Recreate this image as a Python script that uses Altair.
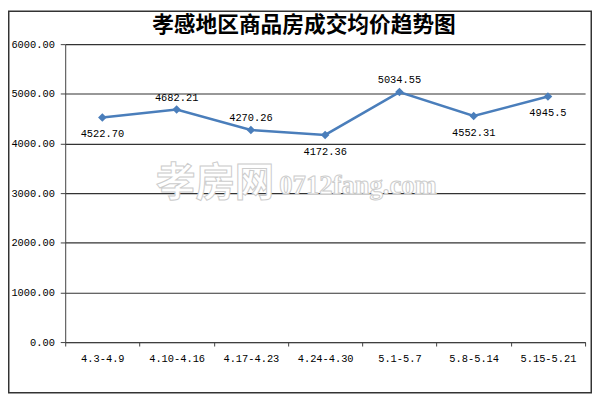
import altair as alt
import pandas as pd

categories = ["4.3-4.9", "4.10-4.16", "4.17-4.23", "4.24-4.30", "5.1-5.7", "5.8-5.14", "5.15-5.21"]
prices = [4522.70, 4682.21, 4270.26, 4172.36, 5034.55, 4552.31, 4945.5]
price_labels = ["4522.70", "4682.21", "4270.26", "4172.36", "5034.55", "4552.31", "4945.5"]
labels_above = ["4.10-4.16", "4.17-4.23", "5.1-5.7"]
y_ticks = [0, 1000, 2000, 3000, 4000, 5000, 6000]
title_text = "孝感地区商品房成交均价趋势图"
watermark_cn = "孝房网"
watermark_en = "0712fang.com"

df = pd.DataFrame({"period": categories, "price": prices, "label": price_labels})
df["side"] = ["above" if p in labels_above else "below" for p in categories]
one = pd.DataFrame({"a": [0]})

NUM_FONT = "Liberation Mono"
LINE_COLOR = "#4a7ebb"

x_enc = alt.X(
    "period:N",
    sort=categories,
    scale=alt.Scale(type="band", paddingInner=0, paddingOuter=0),
    axis=alt.Axis(
        title=None, labelAngle=0, grid=False, tickBand="extent",
        domainColor="#404040", tickColor="#404040", tickSize=4,
        labelFont=NUM_FONT, labelFontSize=10.5, labelColor="#000000", labelPadding=8,
    ),
)
y_enc = alt.Y(
    "price:Q",
    scale=alt.Scale(domain=[0, 6000], nice=False),
    axis=alt.Axis(
        title=None, values=y_ticks, format=".2f", grid=True,
        gridColor="#333333", gridWidth=1.2, domainColor="#404040", tickColor="#404040",
        tickSize=5, labelFont=NUM_FONT, labelFontSize=10.5, labelColor="#000000", labelPadding=6,
    ),
)

base = alt.Chart(df)

title = alt.Chart(one).mark_text(
    text=title_text, font="Noto Sans CJK SC", fontSize=22, fontWeight="bold",
    color="#000000", align="center", baseline="middle",
).encode(x=alt.value(242), y=alt.value(-19))

watermark1 = alt.Chart(one).mark_text(
    text=watermark_cn, font="Noto Sans CJK SC", fontSize=40, fontWeight="bold",
    fill="#ffffff", stroke="#cccccc", strokeWidth=1, align="left", baseline="alphabetic",
).encode(x=alt.value(92), y=alt.value(154))
watermark2 = alt.Chart(one).mark_text(
    text=watermark_en, font="Liberation Serif", fontSize=27, fontWeight="bold",
    fill="#ffffff", stroke="#cccccc", strokeWidth=1, align="left", baseline="alphabetic",
).encode(x=alt.value(217), y=alt.value(152))

line = base.mark_line(color=LINE_COLOR, strokeWidth=2.5).encode(x=x_enc, y=y_enc)
points = base.mark_point(shape="diamond", filled=True, size=75, color=LINE_COLOR, opacity=1).encode(x=x_enc, y=y_enc)
text_above = base.transform_filter("datum.side == 'above'").mark_text(
    font=NUM_FONT, fontSize=10.5, color="#000000", dy=-12, baseline="middle"
).encode(x=x_enc, y=y_enc, text="label:N")
text_below = base.transform_filter("datum.side == 'below'").mark_text(
    font=NUM_FONT, fontSize=10.5, color="#000000", dy=17, baseline="middle"
).encode(x=x_enc, y=y_enc, text="label:N")

border = alt.Chart(one).mark_rect(fill="transparent", stroke="#333333", strokeWidth=1.5).encode(
    x=alt.value(-57.25), x2=alt.value(533.25), y=alt.value(-33.25), y2=alt.value(353.25)
)

chart = alt.layer(title, watermark1, watermark2, line, points, text_above, text_below, border).properties(
    width=527,
    height=302,
    padding={"left": 58, "top": 34, "right": 7, "bottom": 52},
    autosize=alt.AutoSizeParams(type="none"),
    background="#ffffff",
).configure_view(stroke=None)

chart.save("out.html", embed_options={"renderer": "svg", "actions": False})
